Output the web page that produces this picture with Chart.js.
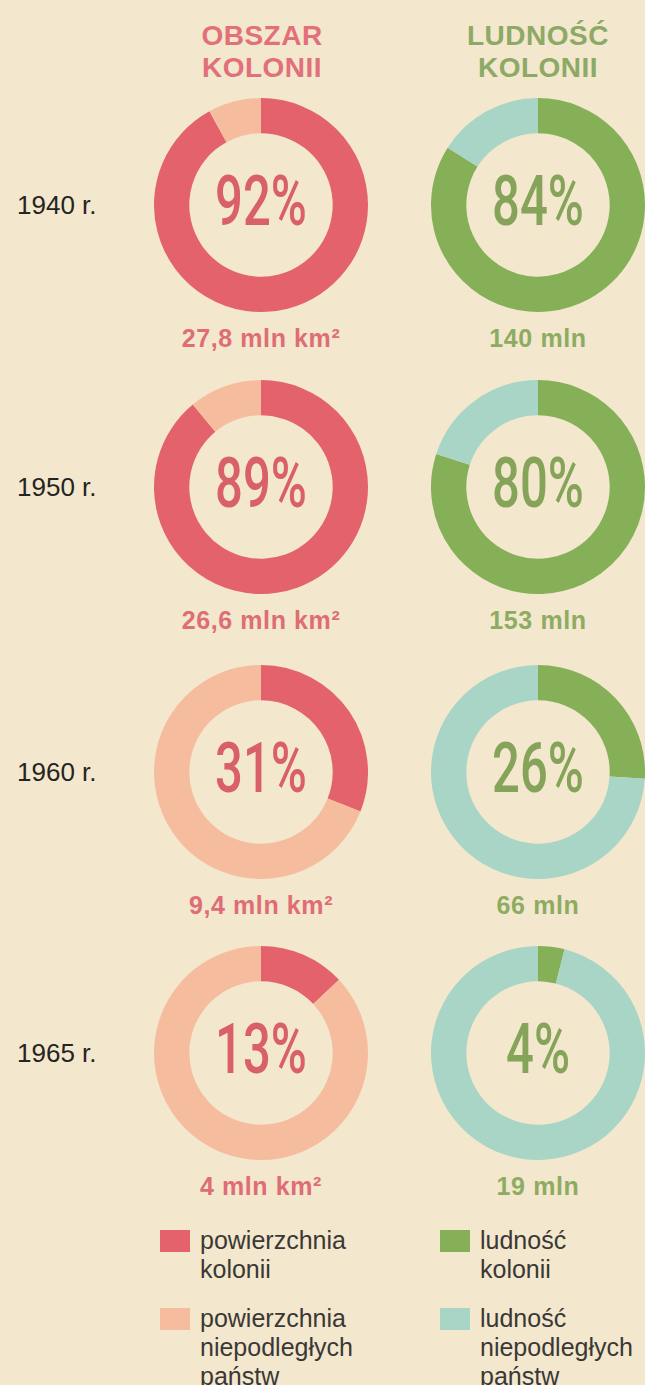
<!DOCTYPE html>
<html lang="pl">
<head>
<meta charset="utf-8">
<title>Obszar i ludność kolonii</title>
<script src="https://cdn.jsdelivr.net/npm/chart.js@4/dist/chart.umd.min.js"></script>
<style>
  html, body { margin: 0; padding: 0; }
  body {
    width: 645px; height: 1385px; position: relative; overflow: hidden;
    background: #f3e7cd;
    font-family: "Liberation Sans", Arial, sans-serif;
  }
  .head {
    position: absolute; top: 20px; width: 220px; text-align: center;
    font-weight: bold; font-size: 28px; line-height: 32px; letter-spacing: 0.5px;
  }
  .year {
    position: absolute; left: 17px; font-size: 26px; color: #25241f;
    transform: translateY(-50%);
  }
  .donut { position: absolute; width: 214px; height: 214px; }
  .value {
    position: absolute; width: 240px; text-align: center; font-weight: bold;
    font-size: 25px; letter-spacing: 0.6px; transform: translateY(-50%);
  }
  .legend { position: absolute; font-size: 25px; line-height: 29px; color: #3a3835; }
  .legend .sw { position: absolute; left: -40px; top: 4px; width: 30px; height: 22px; }
</style>
</head>
<body>

<div class="head" style="left:152px;color:#e1707a">OBSZAR<br>KOLONII</div>
<div class="head" style="left:428px;color:#8caa66">LUDNOŚĆ<br>KOLONII</div>

<div class="legend" style="left:200px;top:1226px"><span class="sw" style="background:#e4626b"></span>powierzchnia<br>kolonii</div>
<div class="legend" style="left:200px;top:1304px"><span class="sw" style="background:#f5bd9e"></span>powierzchnia<br>niepodległych<br>państw</div>
<div class="legend" style="left:480px;top:1226px"><span class="sw" style="background:#86b058"></span>ludność<br>kolonii</div>
<div class="legend" style="left:480px;top:1304px"><span class="sw" style="background:#a8d5c6"></span>ludność<br>niepodległych<br>państw</div>

<script>
// colonial share of world area and population, per year
const years = ['1940 r.', '1950 r.', '1960 r.', '1965 r.'];
const areaShare = [92, 89, 31, 13];
const popShare = [84, 80, 26, 4];
const areaLabels = ['27,8 mln km²', '26,6 mln km²', '9,4 mln km²', '4 mln km²'];
const popLabels = ['140 mln', '153 mln', '66 mln', '19 mln'];

const rowY = [205, 487, 772, 1053];

const areaColors = ['#e4626b', '#f5bd9e'];
const popColors = ['#86b058', '#a8d5c6'];

// percentage in the middle of each ring, squeezed to a narrow display face
const centerText = {
    id: 'centerText',
    afterDraw(chart, args, opts) {
        const arc = chart.getDatasetMeta(0).data[0];
        if (!arc) return;
        const ctx = chart.ctx;
        const txt = chart.data.datasets[0].data[0] + '%';
        ctx.save();
        ctx.translate(arc.x, arc.y + 2);
        ctx.scale(0.7, 1);
        ctx.font = '500 70px Roboto';
        ctx.fillStyle = opts.color;
        ctx.textAlign = 'center';
        ctx.textBaseline = 'middle';
        ctx.fillText(txt, 0, 0);
        ctx.restore();
    }
};

function makeDonut(cx, cy, value, colors, textColor) {
    const canvas = document.createElement('canvas');
    canvas.className = 'donut';
    canvas.style.left = (cx - 107) + 'px';
    canvas.style.top = (cy - 107) + 'px';
    document.body.appendChild(canvas);
    new Chart(canvas.getContext('2d'), {
        type: 'doughnut',
        data: {
            labels: ['kolonie', 'państwa niepodległe'],
            datasets: [{
                data: [value, 100 - value],
                backgroundColor: colors,
                borderWidth: 0
            }]
        },
        options: {
            responsive: false,
            animation: false,
            cutout: '67%',
            layout: { padding: 0 },
            events: [],
            plugins: {
                legend: { display: false },
                tooltip: { enabled: false },
                centerText: { color: textColor }
            }
        },
        plugins: [centerText]
    });
}

function addText(cls, left, top, text, color) {
    const el = document.createElement('div');
    el.className = cls;
    el.style.left = left + 'px';
    el.style.top = top + 'px';
    if (color) el.style.color = color;
    el.textContent = text;
    document.body.appendChild(el);
}

years.forEach(function(year, i) {
    const y = rowY[i];
    addText('year', 17, y, year);
    makeDonut(261, y, areaShare[i], areaColors, '#d95f69');
    makeDonut(538, y, popShare[i], popColors, '#85a459');
    addText('value', 261 - 120, y + 133, areaLabels[i], '#df6d76');
    addText('value', 538 - 120, y + 133, popLabels[i], '#8dac62');
});
</script>
</body>
</html>
